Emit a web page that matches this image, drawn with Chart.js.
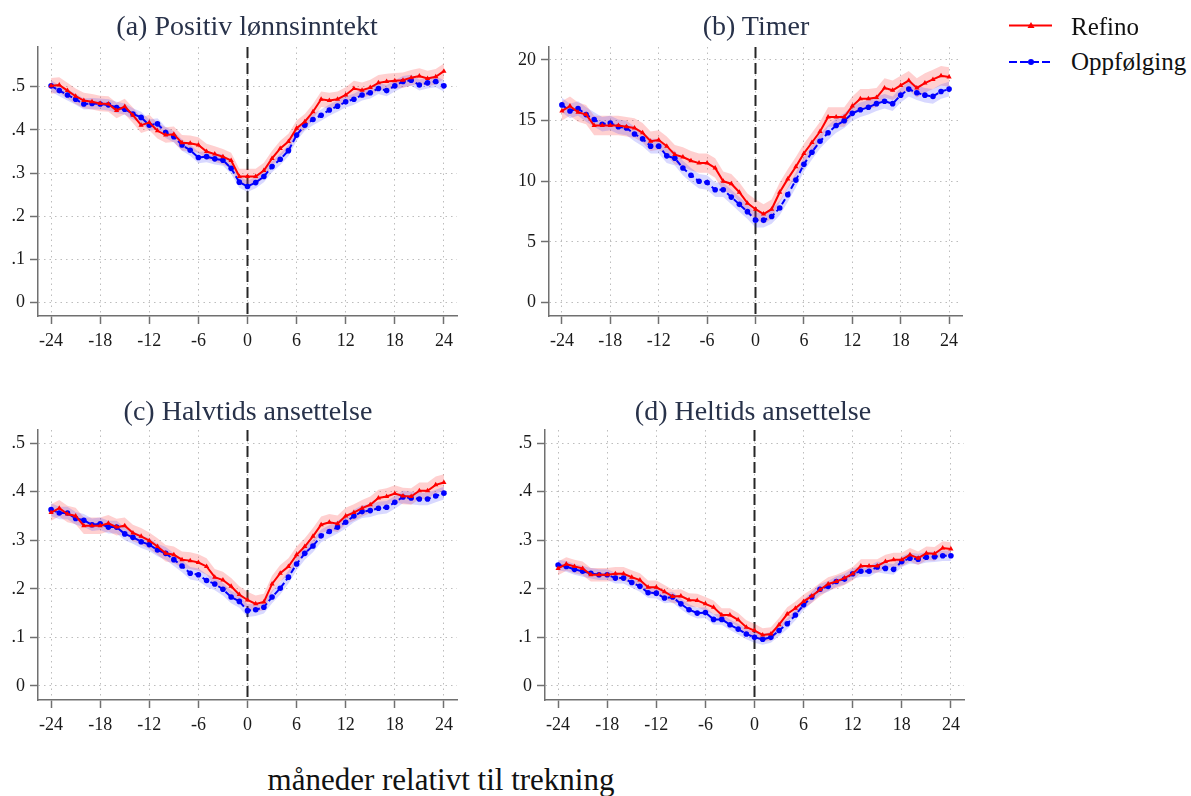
<!DOCTYPE html>
<html>
<head>
<meta charset="utf-8">
<script src="https://cdn.jsdelivr.net/npm/chart.js@4.4.0/dist/chart.umd.min.js"></script>
<style>
  body { margin:0; background:#fff; width:1191px; height:796px; overflow:hidden; position:relative; font-family:"Liberation Serif", serif; }
  canvas { position:absolute; }
  .tittel { position:absolute; font-size:28px; line-height:28px; color:#28324a; white-space:nowrap; transform:translateX(-50%); }
  .leg { position:absolute; font-size:25px; line-height:25px; color:#111; white-space:nowrap; }
  #xtittel { position:absolute; left:441px; top:764px; font-size:31px; line-height:31px; color:#111; white-space:nowrap; transform:translateX(-50%); }
</style>
</head>
<body>
<canvas id="panelA" width="470" height="320" style="left:0px;top:40px"></canvas>
<canvas id="panelB" width="480" height="320" style="left:500px;top:40px"></canvas>
<canvas id="panelC" width="470" height="320" style="left:0px;top:420px"></canvas>
<canvas id="panelD" width="480" height="320" style="left:500px;top:420px"></canvas>

<div class="tittel" style="left:247px;top:12px">(a) Positiv lønnsinntekt</div>
<div class="tittel" style="left:756px;top:12px">(b) Timer</div>
<div class="tittel" style="left:248px;top:397px">(c) Halvtids ansettelse</div>
<div class="tittel" style="left:753px;top:397px">(d) Heltids ansettelse</div>

<svg style="position:absolute;left:1000px;top:0px" width="60" height="80">
  <line x1="9" y1="25.5" x2="52" y2="25.5" stroke="#ff0000" stroke-width="2"/>
  <polygon points="31,22 34.5,28 27.5,28" fill="#ff0000"/>
  <line x1="9" y1="62" x2="52" y2="62" stroke="#0000ff" stroke-width="2" stroke-dasharray="8 3"/>
  <circle cx="31" cy="62" r="3" fill="#0000ff"/>
</svg>
<div class="leg" style="left:1071px;top:14px">Refino</div>
<div class="leg" style="left:1071px;top:49px">Oppfølging</div>

<div id="xtittel">måneder relativt til trekning</div>

<script>
const maaneder = [-24,-23,-22,-21,-20,-19,-18,-17,-16,-15,-14,-13,-12,-11,-10,-9,-8,-7,-6,-5,-4,-3,-2,-1,
                  0,1,2,3,4,5,6,7,8,9,10,11,12,13,14,15,16,17,18,19,20,21,22,23,24];
const xTicks = [-24,-18,-12,-6,0,6,12,18,24];
const trekningMaaned = 0;

const andelTicks = [0, 0.1, 0.2, 0.3, 0.4, 0.5];
const andelLabels = ['0', '.1', '.2', '.3', '.4', '.5'];
const timerTicks = [0, 5, 10, 15, 20];
const timerLabels = ['0', '5', '10', '15', '20'];

// (a) Positiv lønnsinntekt
const refinoA = [.502,.504,.491,.478,.468,.465,.461,.460,.445,.454,.434,.411,.417,.398,.388,.390,.370,.369,.365,.350,.344,.338,.329,.292,
                 .292,.292,.306,.334,.357,.373,.404,.419,.442,.471,.468,.471,.481,.496,.492,.498,.509,.512,.514,.515,.521,.525,.519,.523,.536];
const oppfolgingA = [.502,.491,.481,.471,.460,.461,.460,.458,.452,.448,.437,.429,.411,.414,.394,.384,.365,.353,.336,.338,.333,.330,.311,.279,
                     .269,.278,.292,.315,.332,.352,.388,.411,.424,.434,.446,.455,.465,.471,.481,.486,.496,.491,.502,.512,.515,.504,.509,.512,.502];
// (b) Timer
const refinoB = [15.8,16.2,15.7,15.5,14.6,14.6,14.6,14.6,14.5,14.4,14.0,13.3,13.4,12.9,12.2,12.0,11.7,11.5,11.5,11.1,10.0,9.8,9.1,8.2,
                 7.7,7.3,7.7,9.1,10.2,11.2,12.3,13.2,14.1,15.3,15.3,15.3,16.2,16.8,16.8,16.9,17.7,17.5,17.9,18.3,17.7,18.1,18.4,18.7,18.6];
const oppfolgingB = [16.3,15.8,16.0,15.5,15.1,14.7,14.8,14.5,14.4,13.9,13.5,12.9,12.9,12.1,11.9,11.1,10.5,10.0,9.9,9.3,9.3,8.7,8.1,7.5,
                     6.8,6.8,7.1,7.8,8.9,10.1,11.4,12.4,13.3,14.0,14.6,15.0,15.6,15.9,16.1,16.4,16.6,16.4,17.1,17.6,17.3,17.1,17.0,17.4,17.6];
// (c) Halvtids ansettelse
const refinoC = [.357,.366,.354,.350,.330,.330,.330,.335,.327,.330,.315,.308,.299,.287,.273,.270,.260,.258,.254,.246,.224,.218,.205,.188,
                 .177,.169,.173,.210,.232,.246,.270,.287,.308,.332,.337,.334,.350,.357,.366,.373,.387,.390,.396,.391,.390,.402,.402,.414,.419];
const oppfolgingC = [.363,.356,.356,.345,.341,.332,.334,.327,.327,.313,.306,.297,.291,.280,.273,.260,.247,.232,.229,.217,.210,.199,.183,.174,
                     .155,.157,.162,.183,.201,.224,.251,.273,.288,.309,.318,.327,.337,.350,.359,.361,.366,.368,.378,.389,.387,.385,.385,.391,.397];
// (d) Heltids ansettelse
const refinoD = [.242,.251,.246,.242,.229,.229,.229,.231,.231,.224,.218,.203,.203,.194,.184,.185,.177,.176,.169,.162,.146,.146,.136,.121,
                 .114,.105,.107,.126,.148,.160,.174,.185,.198,.210,.215,.222,.231,.247,.247,.247,.256,.260,.260,.270,.263,.273,.272,.284,.282];
const oppfolgingD = [.249,.246,.240,.236,.232,.229,.229,.222,.222,.213,.205,.192,.191,.181,.183,.169,.157,.150,.151,.137,.137,.126,.117,.107,
                     .100,.096,.100,.114,.128,.146,.167,.183,.199,.205,.215,.220,.231,.236,.236,.245,.242,.240,.256,.263,.261,.265,.266,.268,.268];

// halve bredder på konfidensintervallene (lest av figuren)
const ciA = [0.018, 0.013];
const ciB = [0.8, 0.6];
const ciC = [0.017, 0.013];
const ciD = [0.014, 0.011];

const tekstFont = { family: "'Liberation Serif', serif", size: 18 };

const trekningLinje = {
  id: 'trekningLinje',
  beforeDatasetsDraw(chart) {
    const x = chart.scales.x.getPixelForValue(trekningMaaned);
    const { top, bottom } = chart.chartArea;
    const ctx = chart.ctx;
    ctx.save();
    ctx.strokeStyle = '#262626';
    ctx.lineWidth = 2;
    ctx.setLineDash([11, 5]);
    ctx.beginPath();
    ctx.moveTo(x, top);
    ctx.lineTo(x, bottom);
    ctx.stroke();
    ctx.restore();
  }
};

function lagPanel(id, refino, oppf, ci, yTicks, yLabels, yMin, yMax, g) {
  const grid = { color: '#bdbdbd', lineWidth: 1, tickLength: 8, tickColor: '#707070', tickWidth: 1.5 };
  const border = { display: true, color: '#707070', width: 1.5, dash: [1.5, 4] };

  new Chart(document.getElementById(id), {
    type: 'line',
    data: {
      labels: maaneder,
      datasets: [
        { label: 'Refino', data: refino, borderColor: '#ff0000', backgroundColor: '#ff0000', borderWidth: 2,
          pointStyle: 'triangle', pointRadius: 3, pointBorderWidth: 0, order: 0 },
        { label: 'Oppfølging', data: oppf, borderColor: '#0000ff', backgroundColor: '#0000ff', borderWidth: 2,
          borderDash: [6, 3], pointStyle: 'circle', pointRadius: 2.8, pointBorderWidth: 0, order: 1 },
        { data: refino.map(v => v - ci[0]), borderWidth: 0, pointRadius: 0, fill: false, order: 3 },
        { data: refino.map(v => v + ci[0]), borderWidth: 0, pointRadius: 0, fill: 2,
          backgroundColor: 'rgba(255,40,40,0.22)', order: 3 },
        { data: oppf.map(v => v - ci[1]), borderWidth: 0, pointRadius: 0, fill: false, order: 2 },
        { data: oppf.map(v => v + ci[1]), borderWidth: 0, pointRadius: 0, fill: 4,
          backgroundColor: 'rgba(40,40,255,0.18)', order: 2 }
      ]
    },
    options: {
      responsive: false,
      animation: false,
      devicePixelRatio: 1,
      layout: { padding: { left: 0, top: g.padT, right: g.padR, bottom: 0 } },
      plugins: { legend: { display: false }, tooltip: { enabled: false } },
      scales: {
        x: {
          type: 'linear', min: -25.6, max: 25.6, bounds: 'data',
          afterBuildTicks: s => { s.ticks = xTicks.map(v => ({ value: v })); },
          afterFit: s => { s.height = g.xh; s.paddingLeft = 0; s.paddingRight = 0; },
          ticks: { color: '#1a1a1a', font: tekstFont, padding: 6, maxRotation: 0, autoSkip: false,
                   callback: v => String(v) },
          grid: grid,
          border: border
        },
        y: {
          min: yMin, max: yMax, bounds: 'data',
          afterBuildTicks: s => { s.ticks = yTicks.map(v => ({ value: v })); },
          afterFit: s => { s.width = g.yw; s.paddingTop = 0; s.paddingBottom = 0; },
          ticks: { color: '#1a1a1a', font: tekstFont, padding: 5,
                   callback: v => yLabels[yTicks.indexOf(v)] },
          grid: grid,
          border: border
        }
      }
    },
    plugins: [trekningLinje]
  });
}

lagPanel('panelA', refinoA, oppfolgingA, ciA, andelTicks, andelLabels, -0.031, 0.592, { yw: 38, padT: 7, padR: 13, xh: 44 });
lagPanel('panelB', refinoB, oppfolgingB, ciB, timerTicks, timerLabels, -1.1, 21.07, { yw: 49, padT: 7, padR: 18, xh: 44 });
lagPanel('panelC', refinoC, oppfolgingC, ciC, andelTicks, andelLabels, -0.029, 0.527, { yw: 38, padT: 10, padR: 13, xh: 40 });
lagPanel('panelD', refinoD, oppfolgingD, ciD, andelTicks, andelLabels, -0.029, 0.527, { yw: 45, padT: 10, padR: 16, xh: 40 });
</script>
</body>
</html>
